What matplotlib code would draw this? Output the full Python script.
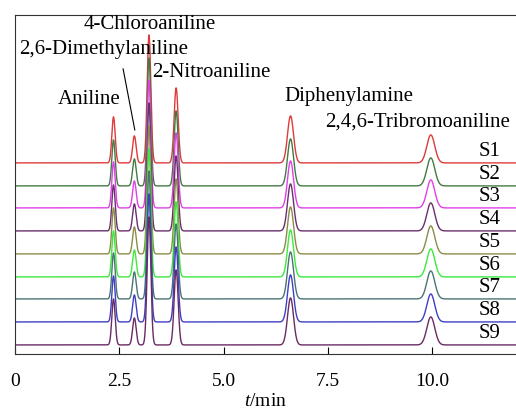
import numpy as np
import matplotlib
matplotlib.use("Agg")
import matplotlib.pyplot as plt

plt.rcParams["font.family"] = ["Liberation Serif", "DejaVu Serif"]
plt.rcParams["mathtext.fontset"] = "custom"
plt.rcParams["mathtext.it"] = "Liberation Serif:italic"
plt.rcParams["mathtext.rm"] = "Liberation Serif"

# peaks: retention time (min), height, width (sigma, min)
compounds = ["Aniline", "2,6-Dimethylaniline", "4-Chloroaniline",
             "2-Nitroaniline", "Diphenylamine", "2,4,6-Tribromoaniline"]
peak_t = [2.36, 2.86, 3.21, 3.86, 6.60, 9.96]
peak_h = [46, 27, 128, 75, 47, 28]
peak_w = [0.040, 0.042, 0.044, 0.048, 0.072, 0.095]

samples = ["S1", "S2", "S3", "S4", "S5", "S6", "S7", "S8", "S9"]
offsets = [191, 168, 146, 123, 100, 77, 55, 32, 9]
colors = ["#de3b3b", "#437a43", "#e040e8", "#6a2f6e", "#8c8c48",
          "#3ee83e", "#4b7474", "#3f3fc4", "#6a2a64"]

t = np.linspace(0, 12, 4000)

fig = plt.figure(figsize=(5.16, 4.13), dpi=100)
ax = fig.add_axes([0.029, 0.143, 0.971, 0.821])

for name, off, c in zip(samples, offsets, colors):
    y = np.full_like(t, float(off))
    for t0, h, w in zip(peak_t, peak_h, peak_w):
        y += h * np.exp(-0.5 * ((t - t0) / w) ** 2)
    ax.plot(t, y, color=c, lw=1.0)
    ax.text(11.62, off + 11, name, ha="right", va="center", fontsize=15)

# compound labels
fs = 15
ax.text(3.23, 329, compounds[2], ha="center", va="center", fontsize=fs)
ax.text(2.13, 304, compounds[1], ha="center", va="center", fontsize=fs)
ax.text(1.77, 254, compounds[0], ha="center", va="center", fontsize=fs)
ax.text(3.28, 281, compounds[3], ha="left", va="center", fontsize=fs)
ax.text(8.0, 257, compounds[4], ha="center", va="center", fontsize=fs)
ax.text(7.42, 232, compounds[5], ha="left", va="center", fontsize=fs)
ax.plot([2.59, 2.87], [285, 224], color="black", lw=0.8)

ax.set_xlim(0, 12)
ax.set_ylim(0, 339)
ax.set_yticks([])
ax.set_xticks([0, 2.5, 5.0, 7.5, 10.0])
ax.set_xticklabels(["0", "2.5", "5.0", "7.5", "10.0"], fontsize=14)
ax.tick_params(axis="x", direction="in", length=5, pad=14)
ax.spines["right"].set_visible(False)
for s in ["left", "top", "bottom"]:
    ax.spines[s].set_color("#333333")
ax.set_xlabel("$t$/min", fontsize=14, labelpad=2)

fig.savefig("out.png", dpi=100)
